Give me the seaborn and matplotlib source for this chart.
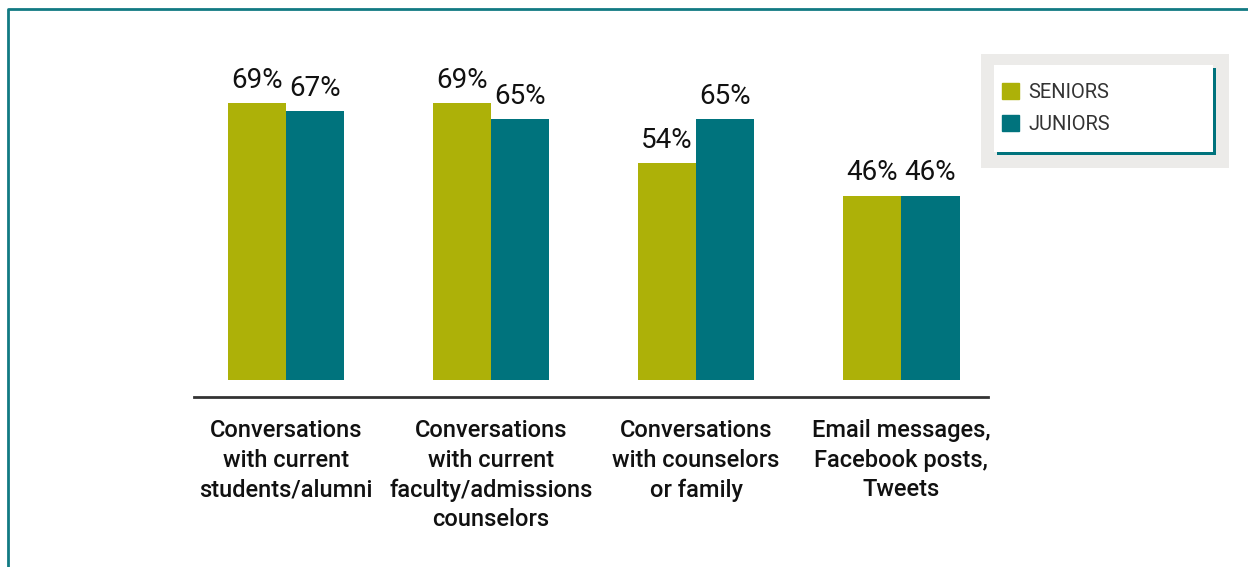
import matplotlib
matplotlib.use("Agg")
import matplotlib.pyplot as plt
import matplotlib.patches as mpatches
import matplotlib.lines as mlines
import seaborn as sns
import pandas as pd

# ── DATA ──────────────────────────────────────────────────────────────────────

categories = [
    "Conversations\nwith current\nstudents/alumni",
    "Conversations\nwith current\nfaculty/admissions\ncounselors",
    "Conversations\nwith counselors\nor family",
    "Email messages,\nFacebook posts,\nTweets",
]
seniors = [69, 69, 54, 46]
juniors = [67, 65, 65, 46]
series_names = ["SENIORS", "JUNIORS"]

OLIVE = "#ADB108"
TEAL = "#00737D"

df = pd.DataFrame({
    "category": categories * 2,
    "group": [series_names[0]] * len(categories) + [series_names[1]] * len(categories),
    "value": seniors + juniors,
})

# ── SETUP ─────────────────────────────────────────────────────────────────────

sns.set_theme(style="white")
plt.rcParams["font.family"] = ["Roboto", "DejaVu Sans"]

W, H = 1248, 567
fig = plt.figure(figsize=(W / 100, H / 100), dpi=100)
ax = fig.add_axes([194 / W, 1 - 397 / H, (988 - 194) / W, (397 - 40) / H])
ax.set_facecolor("none")

sns.barplot(data=df, x="category", y="value", hue="group", order=categories,
            hue_order=series_names, palette=[OLIVE, TEAL], width=0.57,
            saturation=1, linewidth=0, ax=ax, legend=False)

for c in ax.containers:
    ax.bar_label(c, labels=[f"{v:.0f}%" for v in c.datavalues],
                 padding=7, fontsize=20, color="#111111")

ax.set_xlim(-0.449, 3.424)
ax.set_ylim(-4.24, 84.8)
ax.set_xlabel("")
ax.set_ylabel("")
ax.set_yticks([])
for s in ["left", "top", "right"]:
    ax.spines[s].set_visible(False)
ax.spines["bottom"].set_color("#333333")
ax.spines["bottom"].set_linewidth(2)
ax.tick_params(axis="x", length=0, pad=16)
for lbl in ax.get_xticklabels():
    lbl.set_fontsize(17)
    lbl.set_fontweight("medium")
    lbl.set_color("#111111")
    lbl.set_linespacing(1.36)
    lbl.set_multialignment("center")

# ── LEGEND BOX ────────────────────────────────────────────────────────────────

def fig_rect(x0, y0, x1, y1, **kw):
    return mpatches.Rectangle((x0 / W, 1 - y1 / H), (x1 - x0) / W, (y1 - y0) / H,
                              transform=fig.transFigure, linewidth=0, **kw)

fig.add_artist(fig_rect(981, 54, 1229, 168, color="#ECEBE9", zorder=1))
fig.add_artist(fig_rect(997, 68, 1216, 155, color=TEAL, zorder=1.1))
fig.add_artist(fig_rect(994, 65, 1213, 152, color="white", zorder=1.2))

handles = [mpatches.Patch(color=OLIVE), mpatches.Patch(color=TEAL)]
fig.legend(handles, series_names, loc="upper left",
           bbox_to_anchor=(1002 / W, 1 - 83 / H), frameon=False,
           fontsize=14.5, handlelength=0.85, handleheight=0.85,
           handletextpad=0.45, labelspacing=0.66, borderpad=0, borderaxespad=0,
           labelcolor="#333333")

# outer teal border (left and top)
fig.add_artist(mlines.Line2D([7.5 / W, 7.5 / W, 1], [0, 1 - 8.5 / H, 1 - 8.5 / H],
                             transform=fig.transFigure, color="#127A83", linewidth=2))

plt.savefig("out.png", dpi=100)
plt.close()
